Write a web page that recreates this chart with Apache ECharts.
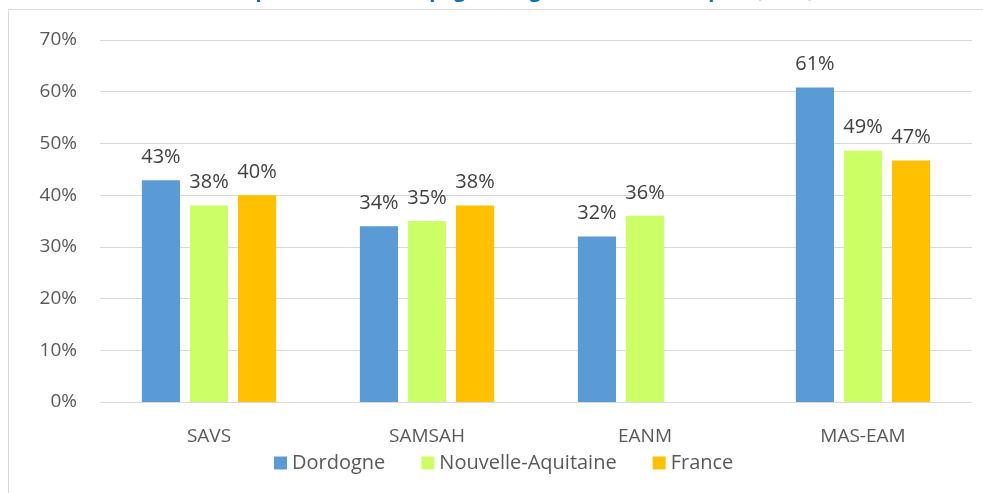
<!DOCTYPE html>
<html>
<head>
<meta charset="utf-8">
<script src="https://cdn.jsdelivr.net/npm/echarts@6/dist/echarts.min.js"></script>
<style>
html,body{margin:0;padding:0;background:#fff;}
#chart{width:983px;height:493px;}
</style>
</head>
<body>
<div id="chart"></div>
<script>
// categories et valeurs
var categories = ['SAVS', 'SAMSAH', 'EANM', 'MAS-EAM'];
var dordogne = [42.9, 34, 32, 60.8];
var nouvelleAquitaine = [38, 35, 36, 48.6];
var france = [40, 38, null, 46.7];
var seriesNames = ['Dordogne', 'Nouvelle-Aquitaine', 'France'];
var couleurs = ['#5B9BD5', '#CCFF66', '#FFC000'];

var police = 'Open Sans';

function serie(nom, data, couleur) {
    return {
        name: nom,
        type: 'bar',
        data: data,
        barWidth: '17.5%',
        barGap: '26%',
        itemStyle: {color: couleur},
        label: {
            show: true,
            position: 'top',
            distance: 13,
            color: '#404040',
            fontSize: 20,
            fontFamily: police,
            formatter: function (p) {
                return Math.round(p.value) + '%';
            }
        }
    };
}

var myChart = echarts.init(document.getElementById('chart'));
var option = {
    backgroundColor: '#fff',
    animation: false,
    color: couleurs,
    title: {
        text: "Part des personnes accompagnées âgées de 50 ans ou plus (2018)",
        left: 'center',
        top: -24,
        textStyle: {color: '#0070C0', fontSize: 20, fontWeight: 'bold', fontFamily: police}
    },
    graphic: [{
        type: 'rect',
        shape: {x: 8.5, y: 9.5, width: 1000, height: 600},
        style: {fill: '#fff', stroke: '#D9D9D9', lineWidth: 1},
        silent: true,
        z: -1
    }],
    legend: {
        data: seriesNames,
        top: 448,
        left: 269,
        itemWidth: 13,
        itemHeight: 13,
        itemGap: 36,
        icon: 'rect',
        textStyle: {color: '#595959', fontSize: 20, fontFamily: police, padding: [0, 0, 0, 0]}
    },
    grid: {left: 100, right: 11, top: 40, bottom: 91, containLabel: false},
    xAxis: {
        type: 'category',
        data: categories,
        axisLine: {lineStyle: {color: '#D9D9D9', width: 1}},
        axisTick: {show: false},
        axisLabel: {color: '#595959', fontSize: 19, fontFamily: police, margin: 25}
    },
    yAxis: {
        type: 'value',
        min: 0,
        max: 70,
        interval: 10,
        axisLine: {show: false},
        axisTick: {show: false},
        splitLine: {lineStyle: {color: '#D9D9D9', width: 1}},
        axisLabel: {color: '#595959', fontSize: 19, fontFamily: police, margin: 23, formatter: '{value}%'}
    },
    series: [
        serie(seriesNames[0], dordogne, couleurs[0]),
        serie(seriesNames[1], nouvelleAquitaine, couleurs[1]),
        serie(seriesNames[2], france, couleurs[2])
    ]
};
myChart.setOption(option);
</script>
</body>
</html>
